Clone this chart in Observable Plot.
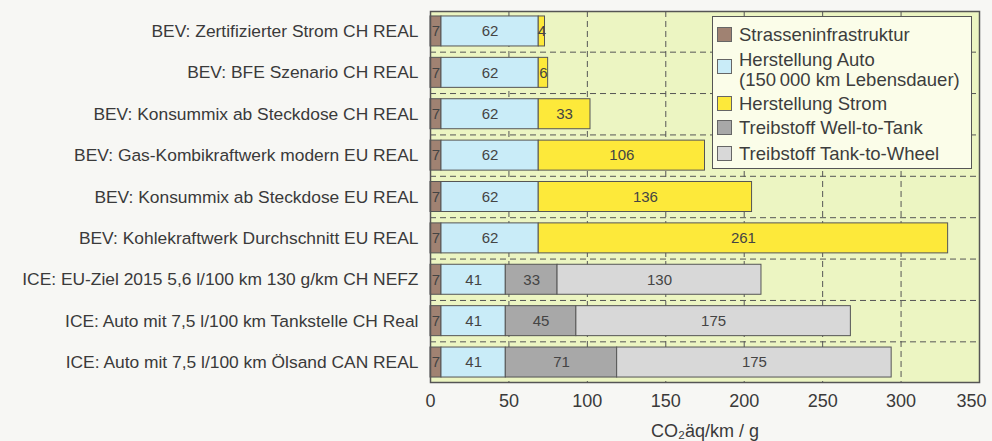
<!DOCTYPE html>
<html><head><meta charset="utf-8">
<script src="https://cdn.jsdelivr.net/npm/d3@7"></script>
<script src="https://cdn.jsdelivr.net/npm/@observablehq/plot@0.6"></script>
<style>
body{margin:0;background:#f7f7f4;font-family:"Liberation Sans",Arial,sans-serif;color:#3d3d3d;}
#wrap{position:relative;width:992px;height:441px;}
#legend{position:absolute;left:712px;top:16px;width:260px;height:153px;border:1.5px solid #555;background:#fbfde9;box-sizing:border-box;}
#legend .sw{position:absolute;left:4px;width:15px;height:15px;border:1px solid #666;box-sizing:border-box;}
#legend .lb{position:absolute;left:26px;font-size:18.5px;line-height:20px;white-space:nowrap;color:#3d3d3d;}
</style>
</head><body>
<div id="wrap"><div id="chart"></div><div id="legend"></div></div>
<script>
const categories = [
  "BEV: Zertifizierter Strom CH REAL",
  "BEV: BFE Szenario CH REAL",
  "BEV: Konsummix ab Steckdose CH REAL",
  "BEV: Gas-Kombikraftwerk modern EU REAL",
  "BEV: Konsummix ab Steckdose EU REAL",
  "BEV: Kohlekraftwerk Durchschnitt EU REAL",
  "ICE: EU-Ziel 2015 5,6 l/100 km 130 g/km CH NEFZ",
  "ICE: Auto mit 7,5 l/100 km Tankstelle CH Real",
  "ICE: Auto mit 7,5 l/100 km Ölsand CAN REAL"
];
const infra = [7, 7, 7, 7, 7, 7, 7, 7, 7];
const auto  = [62, 62, 62, 62, 62, 62, 41, 41, 41];
const strom = [4, 6, 33, 106, 136, 261, 0, 0, 0];
const wtt   = [0, 0, 0, 0, 0, 0, 33, 45, 71];
const ttw   = [0, 0, 0, 0, 0, 0, 130, 175, 175];
const components = ["Strasseninfrastruktur", "Herstellung Auto", "Herstellung Strom", "Treibstoff Well-to-Tank", "Treibstoff Tank-to-Wheel"];
const legendLabels = ["Strasseninfrastruktur", "Herstellung Auto<br>(150\u2009000 km Lebensdauer)", "Herstellung Strom", "Treibstoff Well-to-Tank", "Treibstoff Tank-to-Wheel"];
const colors = ["#a08272", "#c9ecf8", "#fde93a", "#a8a8a8", "#d8d8d8"];
const xTicks = [0, 50, 100, 150, 200, 250, 300, 350];
const xLabel = "CO\u2082äq/km / g";

const series = [infra, auto, strom, wtt, ttw];
const data = [];
categories.forEach((c, i) => {
  series.forEach((s, k) => {
    if (s[i] > 0) data.push({cat: c, comp: components[k], value: s[i]});
  });
});

const W = 992, H = 441, mt = 11, mb = 59, ml = 430, mr = 13;
const pin = 0.275, pout = 0.12;
const step = (H - mt - mb) / (categories.length - pin + 2 * pout);

const chart = Plot.plot({
  width: W, height: H,
  marginLeft: ml, marginRight: mr, marginTop: mt, marginBottom: mb,
  style: {fontFamily: '"Liberation Sans", Arial, sans-serif', fontSize: "18px", color: "#3d3d3d", background: "transparent"},
  x: {domain: [0, 350]},
  y: {domain: categories, paddingInner: pin, paddingOuter: pout, round: false},
  color: {domain: components, range: colors},
  marks: [
    Plot.frame({fill: "#ecf5c2"}),
    Plot.gridX({ticks: xTicks, stroke: "#555", strokeOpacity: 1, strokeDasharray: "6,4"}),
    Plot.ruleY(categories.slice(0, -1), {y: d => d, dy: step / 2, stroke: "#555", strokeDasharray: "6,4"}),
    Plot.barX(data, {y: "cat", x: "value", fill: "comp", stroke: "#555", strokeWidth: 1, order: null}),
    Plot.text(data, Plot.stackX({y: "cat", x: "value", text: "value", order: null, fill: "#444", fontSize: 15})),
    Plot.frame({stroke: "#555", strokeWidth: 1.5}),
    Plot.axisY({tickSize: 0, tickPadding: 12, fontSize: 17.4, fill: "#3a3a3a", label: null}),
    Plot.axisX({ticks: xTicks.slice(0, -1), tickSize: 0, tickPadding: 12, fontSize: 18, fill: "#3a3a3a", label: xLabel, labelAnchor: "center", labelOffset: 54, labelArrow: "none"}),
    Plot.axisX({ticks: xTicks.slice(-1), tickSize: 0, tickPadding: 12, fontSize: 18, fill: "#3a3a3a", dx: -8, label: null})
  ]
});
document.getElementById("chart").appendChild(chart);

const lg = document.getElementById("legend");
const rows = [
  {sw: 10, lb: 8},
  {sw: 42, lb: 33},
  {sw: 79, lb: 77},
  {sw: 103, lb: 101},
  {sw: 129, lb: 127}
];
components.forEach((c, k) => {
  const s = document.createElement("div");
  s.className = "sw"; s.style.top = rows[k].sw + "px"; s.style.background = colors[k];
  lg.appendChild(s);
  const t = document.createElement("div");
  t.className = "lb"; t.style.top = rows[k].lb + "px"; t.innerHTML = legendLabels[k];
  lg.appendChild(t);
});
</script>
</body></html>
